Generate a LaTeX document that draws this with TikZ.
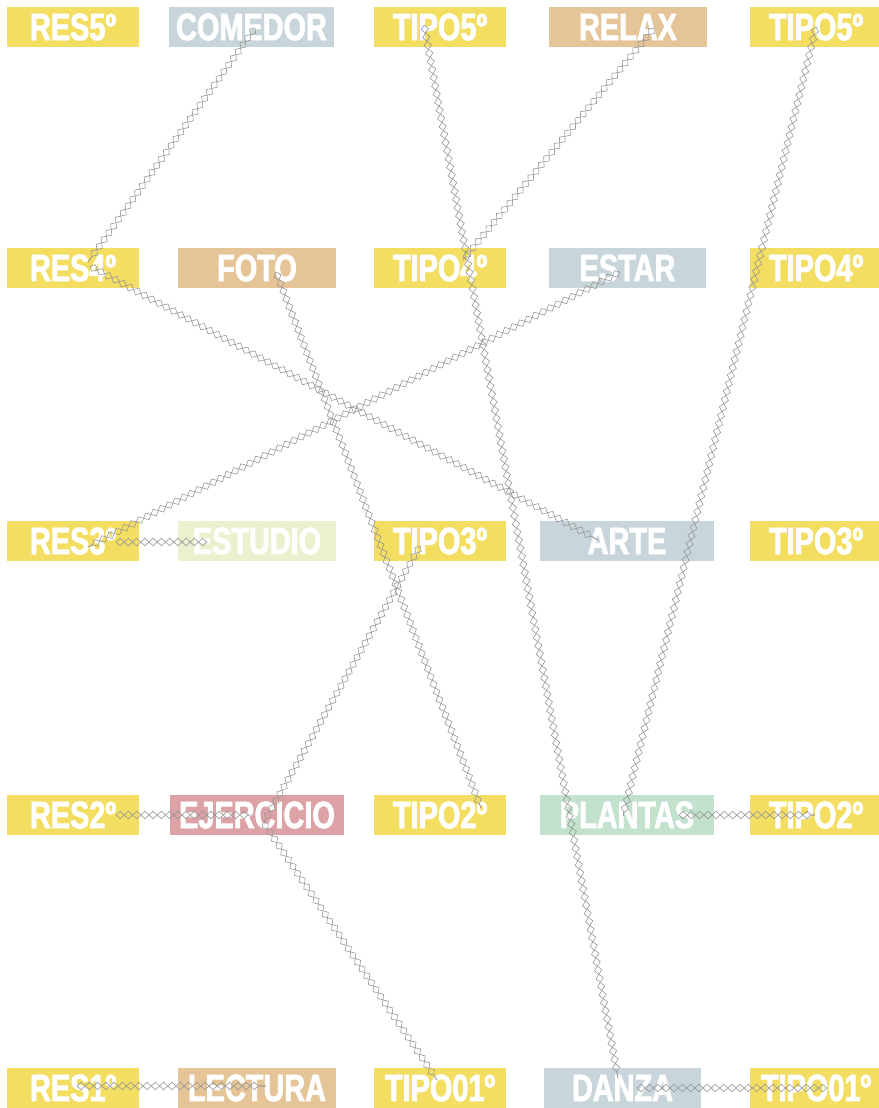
\documentclass[tikz,border=0pt]{standalone}
\usepackage{fontspec}
\usetikzlibrary{calc,decorations.pathmorphing}
\newfontfamily\lblfont{Liberation Sans}[FakeStretch=0.76, BoldFeatures={FakeBold=2}]

\definecolor{cyellow}{HTML}{F3DE62}
\definecolor{cblue}{HTML}{C8D6DC}
\definecolor{ctan}{HTML}{E5C497}
\definecolor{clime}{HTML}{EBF0CF}
\definecolor{cpink}{HTML}{DCA2A6}
\definecolor{cmint}{HTML}{C2E2CD}
\definecolor{clink}{HTML}{979797}

\tikzset{
  tag/.style={minimum height=40pt, inner sep=0pt, text=white,
    font=\lblfont\bfseries\fontsize{38}{38}\selectfont},
  tipo/.style={tag, fill=cyellow, minimum width=132pt},
  wide/.style={tag, minimum width=174pt},
  mid/.style={tag, minimum width=158pt},
  chainzig/.style={draw=clink, line width=0.6pt, decorate,
    decoration={zigzag, amplitude=3.7pt, segment length=16.5pt}},
  link/.style={postaction={chainzig},
    postaction={chainzig, decoration={mirror}}}
}

\begin{document}
\begin{tikzpicture}[x=1pt,y=-1pt]
\useasboundingbox (0,0) rectangle (878,1108);

% row 5 (top)
\node[tipo] (res5) at (73,27) {RES5º};
\node[tag, fill=cblue, minimum width=165pt] (comedor) at (251.5,27) {COMEDOR};
\node[tipo] (tipo5a) at (440,27) {TIPO5º};
\node[mid, fill=ctan] (relax) at (628,27) {RELAX};
\node[tipo] (tipo5b) at (816,27) {TIPO5º};

% row 4
\node[tipo] (res4) at (73,268) {RES4º};
\node[mid, fill=ctan] (foto) at (257,268) {FOTO};
\node[tipo] (tipo4a) at (440,268) {TIPO4º};
\node[tag, fill=cblue, minimum width=157pt] (estar) at (627.5,268) {ESTAR};
\node[tipo] (tipo4b) at (816,268) {TIPO4º};

% row 3
\node[tipo] (res3) at (73,541) {RES3º};
\node[mid, fill=clime] (estudio) at (257,541) {ESTUDIO};
\node[tipo] (tipo3a) at (440,541) {TIPO3º};
\node[wide, fill=cblue] (arte) at (627,541) {ARTE};
\node[tipo] (tipo3b) at (816,541) {TIPO3º};

% row 2
\node[tipo] (res2) at (73,815) {RES2º};
\node[wide, fill=cpink] (ejercicio) at (257,815) {EJERCICIO};
\node[tipo] (tipo2a) at (440,815) {TIPO2º};
\node[wide, fill=cmint] (plantas) at (627,815) {PLANTAS};
\node[tipo] (tipo2b) at (816,815) {TIPO2º};

% row 1 (bottom)
\node[tipo] (res1) at (73,1088) {RES1º};
\node[mid, fill=ctan] (lectura) at (257,1088) {LECTURA};
\node[tipo] (tipo1a) at (440,1088) {TIPO01º};
\node[tag, fill=cblue, minimum width=157pt] (danza) at (622.5,1088) {DANZA};
\node[tipo] (tipo1b) at (816,1088) {TIPO01º};

% diamond-chain links
\path[link] ($(comedor)+(3.5,1)$) -- ($(res4)+(15,-6)$);
\path[link] ($(res4)+(17,-2)$) -- ($(arte)+(-29,-1)$);
\path[link] ($(tipo5a)+(-16,-2)$) -- ($(danza)+(-4.5,-10)$);
\path[link] ($(relax)+(26,1)$) -- ($(tipo4a)+(23,-8)$);
\path[link] ($(tipo5b)+(0,0)$) -- ($(plantas)+(-4,1)$);
\path[link] ($(foto)+(19,4)$) -- ($(tipo2a)+(41,-7)$);
\path[link] ($(estar)+(-7.5,4)$) -- ($(res3)+(15,6)$);
\path[link] ($(res3)+(43,1)$) -- ($(estudio)+(-50,1)$);
\path[link] ($(tipo3a)+(-20,5)$) -- ($(ejercicio)+(7,7)$);
\path[link] ($(ejercicio)+(6,7)$) -- ($(tipo1a)+(-3,-8)$);
\path[link] ($(res2)+(43,0)$) -- ($(ejercicio)+(-7,0)$);
\path[link] ($(plantas)+(52,0)$) -- ($(tipo2b)+(-1,0)$);
\path[link] ($(res1)+(4,-2)$) -- ($(lectura)+(9,-2)$);
\path[link] ($(danza)+(14.5,0)$) -- ($(tipo1b)+(11,0)$);
\end{tikzpicture}
\end{document}
